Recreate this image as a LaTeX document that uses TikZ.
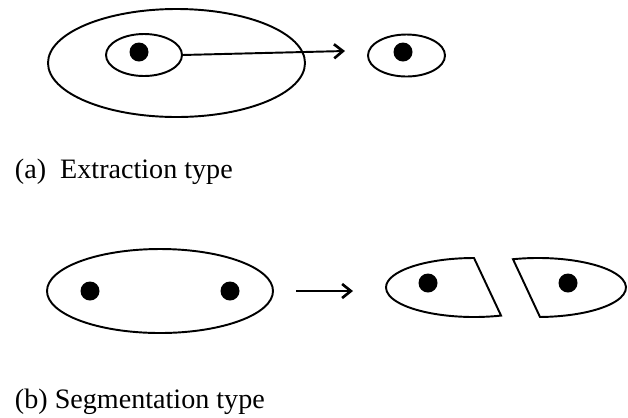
\documentclass[tikz,border=0pt]{standalone}
\usepackage{fontspec}
\setmainfont{Liberation Serif}
\usetikzlibrary{shapes.geometric,arrows.meta}

\newlength\unitP
\setlength\unitP{0.02cm}

\begin{document}
\begin{tikzpicture}[x=\unitP, y=-\unitP, line width=1.1pt,
    cell/.style={draw, ellipse, inner sep=0pt, outer sep=0pt},
    arr/.style={-{Straight Barb[length=5pt,width=8pt,line width=1.5pt]}},
    lbl/.style={anchor=base west, inner sep=0pt, font=\fontsize{16}{19}\selectfont}]

    \useasboundingbox (0,0) rectangle (628,417);

    % === (a) Extraction type ===
    \node[cell, minimum width=257\unitP, minimum height=108\unitP] (outer) at (176.5,63) {};
    \node[cell, minimum width=76\unitP, minimum height=42\unitP] (inner) at (144,55) {};
    \node[cell, minimum width=77\unitP, minimum height=42\unitP] (extracted) at (406.5,55.5) {};
    \fill (139,52) circle[radius=9.5];
    \fill (403,52) circle[radius=9.5];

    \coordinate (tipA) at (345,51);
    \draw[arr] (inner.east) -- (tipA);

    \node[lbl] (capA) at (14,178) {(a)~~Extraction type};

    % === (b) Segmentation type ===
    \node[cell, minimum width=226\unitP, minimum height=84\unitP] (whole) at (160,291) {};
    \foreach \x in {90,230}
        \fill (\x,291) circle[radius=9.5];

    \coordinate (segFrom) at (296,291);
    \coordinate (segTo) at (353,291);
    \draw[arr] (segFrom) -- (segTo);

    % pieces after the cut
    \draw[line join=miter] (474,258) arc[start angle=270, end angle=72.1, x radius=88, y radius=29.5] -- cycle;
    \draw[line join=miter] (513,259.2) arc[start angle=253.5, end angle=448.7, x radius=88, y radius=29.5] -- cycle;
    \fill (428,283) circle[radius=9.5];
    \fill (568,283) circle[radius=9.5];

    \node[lbl] (capB) at (14,408) {(b) Segmentation type};

\end{tikzpicture}
\end{document}
